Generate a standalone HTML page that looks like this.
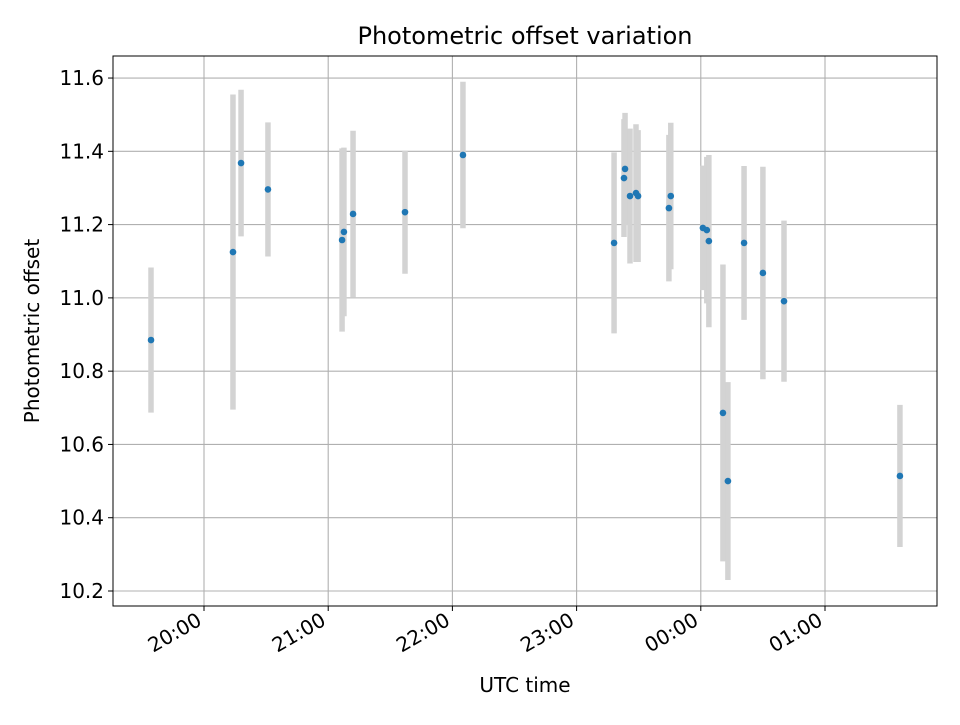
<!DOCTYPE html>
<html><head><meta charset="utf-8"><style>
body{margin:0;background:#fff;}
svg text{font-family:"DejaVu Sans","Liberation Sans",sans-serif;fill:#000;}
</style></head><body>
<svg id="chart" width="960" height="720" xmlns="http://www.w3.org/2000/svg">
<rect width="960" height="720" fill="#fff"/>
<g id="grid"></g>
<g id="bars"></g>
<g id="pts"></g>
<rect x="113" y="56" width="824" height="550" fill="none" stroke="#000" stroke-width="1"/>
<g id="ticks"></g>
<text x="525" y="44" font-size="24" text-anchor="middle">Photometric offset variation</text>
<text x="525" y="692" font-size="20" text-anchor="middle">UTC time</text>
<text x="39" y="331" font-size="20" text-anchor="middle" transform="rotate(-90 39 331)">Photometric offset</text>
</svg>
<script>
// minutes after 19:00 UTC
const times=[34.4,74.0,77.9,90.9,126.7,127.6,132.0,157.1,185.1,258.1,262.9,263.4,265.8,268.7,269.7,284.6,285.5,301.0,302.9,303.9,310.7,313.1,320.9,330.0,340.2,396.2];
const values=[10.885,11.125,11.368,11.296,11.158,11.180,11.229,11.234,11.390,11.150,11.327,11.352,11.278,11.286,11.278,11.245,11.278,11.191,11.185,11.155,10.686,10.500,11.150,11.068,10.991,10.514];
const errors=[0.198,0.43,0.2,0.183,0.25,0.23,0.227,0.168,0.2,0.247,0.161,0.153,0.184,0.188,0.18,0.2,0.2,0.17,0.2,0.235,0.405,0.27,0.21,0.29,0.22,0.194];
const yTicks=[10.2,10.4,10.6,10.8,11.0,11.2,11.4,11.6];
const xTickMinutes=[60,120,180,240,300,360];
const xTickLabels=["20:00","21:00","22:00","23:00","00:00","01:00"];
const NS="http://www.w3.org/2000/svg";
function X(m){return 204+(m-60)*124.2/60;}
function Y(v){return 591-(v-10.2)*366.4;}
function mk(tag,attrs,parent){const e=document.createElementNS(NS,tag);for(const k in attrs)e.setAttribute(k,attrs[k]);parent.appendChild(e);return e;}
const grid=document.getElementById('grid'),ticks=document.getElementById('ticks'),bars=document.getElementById('bars'),pts=document.getElementById('pts');
yTicks.forEach(v=>{const y=Y(v);
 const g=mk('line',{x1:113,x2:937,y1:y,y2:y,stroke:'#b0b0b0','stroke-width':1.1},grid);
 
 const t=mk('line',{x1:108,x2:113,y1:y,y2:y,stroke:'#000'},ticks);
 
 const l=mk('text',{x:104,y:y+7,'font-size':20,'text-anchor':'end'},ticks);l.textContent=v.toFixed(1);
 
});
xTickMinutes.forEach((m,i)=>{const x=X(m);
 const g=mk('line',{x1:x,x2:x,y1:56,y2:606,stroke:'#b0b0b0','stroke-width':1.1},grid);
 
 const t=mk('line',{x1:x,x2:x,y1:606,y2:611,stroke:'#000'},ticks);
 
 const l=mk('text',{x:x-1,y:624,'font-size':20,'text-anchor':'end',transform:`rotate(-30 ${x-1} 624)`},ticks);l.textContent=xTickLabels[i];
 
});
times.forEach((m,i)=>{const x=X(m);
 const b=mk('line',{x1:x,x2:x,y1:Y(values[i]+errors[i]),y2:Y(values[i]-errors[i]),stroke:'#d3d3d3','stroke-width':5.5},bars);
 
});
times.forEach((m,i)=>{
 const c=mk('circle',{cx:X(m),cy:Y(values[i]),r:3.3,fill:'#1f77b4'},pts);
 
});
</script>
</body></html>
